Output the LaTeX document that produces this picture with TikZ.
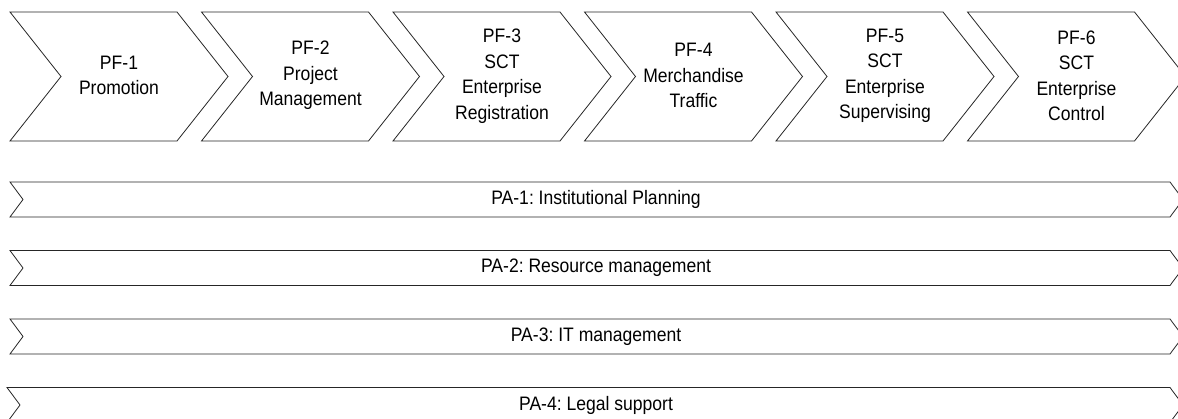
\documentclass[tikz,border=0pt]{standalone}
\usepackage{fontspec}
\setmainfont[FakeStretch=0.9]{Liberation Sans}
\frenchspacing
\begin{document}
\begin{tikzpicture}[x=1pt,y=-1pt,
  shapeline/.style={draw=black!85, line width=0.8pt, fill=white, line join=miter},
  lbl/.style={align=center, font=\fontsize{19.5}{25.5}\selectfont, inner sep=0pt, text=black}]
\useasboundingbox (0,0) rectangle (1178,419);
\clip (0,0) rectangle (1178,419);
% process chevrons
\foreach \x in {10,201.5,393,584.5,776,967.5}{
  \draw[shapeline] (\x,12) -- ++(167,0) -- ++(51,64.5) -- ++(-51,64.5) -- ++(-167,0) -- ++(51,-64.5) -- cycle;
}
\node[lbl] (pf1) at (119,75.5) {PF-1\\Promotion};
\node[lbl] (pf2) at (310.5,75.5) {PF-2\\Project\\Management};
\node[lbl] (pf3) at (502,76) {PF-3\\SCT\\Enterprise\\Registration};
\node[lbl] (pf4) at (693.5,75.5) {PF-4\\Merchandise\\Traffic};
\node[lbl] (pf5) at (885,76) {PF-5\\SCT\\Enterprise\\Supervising};
\node[lbl] (pf6) at (1076.5,76) {PF-6\\SCT\\Enterprise\\Control};
% support bars
\foreach \y/\l in {182/10,250.5/10,319/10,387.5/7}{
  \draw[shapeline] (\l,\y) -- (1170,\y) -- ++(13,17.5) -- ++(-13,17.5) -- (\l,\y+35) -- ++(13,-17.5) -- cycle;
}
\node[lbl] (pa1) at (596,199.5) {PA-1: Institutional Planning};
\node[lbl] (pa2) at (596,268) {PA-2: Resource management};
\node[lbl] (pa3) at (596,336.5) {PA-3: IT management};
\node[lbl] (pa4) at (596,405) {PA-4: Legal support};
\end{tikzpicture}
\end{document}
